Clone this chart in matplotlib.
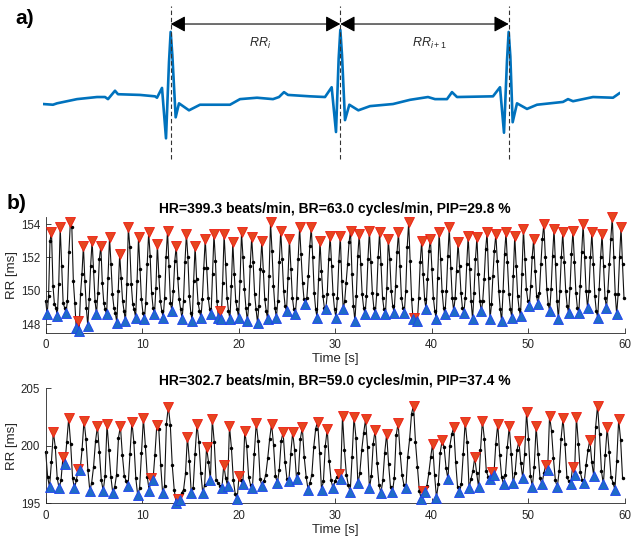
import numpy as np
import matplotlib
matplotlib.use('Agg')
import matplotlib.pyplot as plt

plt.rcParams['font.family'] = ['Liberation Sans', 'DejaVu Sans']
plt.rcParams['mathtext.fontset'] = 'custom'
plt.rcParams['mathtext.it'] = 'Liberation Sans:italic'
plt.rcParams['mathtext.rm'] = 'Liberation Sans'

# ---------------- data ----------------
# panel a: ECG trace (time in ms, amplitude in mV)
ecg_t = [0, 9, 12.6, 30.6, 48.6, 55.8, 58.5, 64.8, 67.5, 87.3, 100.8, 102.6, 107.1, 110.7,
         113.4, 114.9, 116.4, 119.4, 122.4, 131.4, 141.3, 156.6, 168.3, 177.3, 192.6, 207,
         212.4, 216.9, 220.5, 240.3, 253.8, 259.8, 263.7, 266.1, 267.6, 269.1, 271.8, 275.7,
         283.8, 294.3, 315, 330.3, 346.5, 352.8, 363.6, 368.1, 372.6, 405, 411.3, 414.9,
         417.6, 419.1, 420.6, 422.7, 426.6, 435.6, 444.6, 468, 472.5, 477, 495, 513, 519.3]
ecg_v = [0.0, -0.01, 0.01, 0.07, 0.10, 0.10, 0.07, 0.19, 0.14, 0.13, 0.11, 0.09, 0.23, -0.49,
         0.60, 1.03, 0.70, -0.19, 0.01, -0.09, -0.01, -0.01, -0.01, 0.07, 0.09, 0.07,
         0.10, 0.17, 0.13, 0.11, 0.10, 0.24, -0.40, 0.65, 1.06, 0.70, -0.23, -0.01,
         -0.09, -0.03, 0.0, 0.06, 0.10, 0.07, 0.07, 0.17, 0.10, 0.11, 0.24, -0.41,
         0.62, 1.03, 0.68, -0.26, 0.01, -0.07, -0.01, 0.03, 0.07, 0.04, 0.10, 0.09, 0.16]
r_peaks_ms = [114.9, 267.6, 419.1]
rr_labels = [r'$\mathit{RR}_{\mathit{i}}$', r'$\mathit{RR}_{\mathit{i+1}}$']

# panel b (top): RR series [ms]
rr1 = [149.4, 148.6, 149.7, 153.0, 153.5, 150.3, 149.2, 149.0, 148.5, 150.4,
       153.8, 151.5, 149.3, 149.0, 148.7, 149.4, 152.3, 154.1, 153.8, 150.6,
       149.3, 147.8, 148.2, 147.6, 149.8, 151.0, 152.7, 150.6, 149.0, 147.9,
       149.5, 151.5, 153.0, 151.2, 149.4, 148.6, 149.9, 151.9, 152.7, 150.5,
       149.3, 148.9, 148.6, 150.8, 153.2, 151.6, 149.8, 149.0, 148.7, 148.1,
       150.0, 152.2, 150.8, 149.4, 148.8, 148.2, 150.4, 153.8, 152.6, 150.4,
       149.2, 148.9, 148.4, 150.6, 153.2, 151.3, 149.5, 148.7, 148.3, 149.3,
       151.6, 153.5, 152.1, 149.9, 149.0, 148.6, 150.2, 152.8, 150.9, 149.4,
       148.8, 148.4, 149.6, 152.0, 153.6, 151.5, 149.3, 148.8, 150.0, 151.8,
       152.7, 150.8, 149.5, 148.9, 148.3, 149.4, 151.7, 153.4, 152.0, 149.7,
       148.7, 148.2, 150.6, 152.7, 150.7, 149.3, 148.8, 148.4, 149.5, 151.4,
       153.1, 151.4, 149.6, 148.9, 148.6, 151.0, 153.4, 151.8, 149.4, 148.4,
       148.8, 148.3, 150.5, 153.4, 151.6, 149.6, 148.8, 148.3, 150.3, 152.9,
       151.0, 149.4, 148.9, 148.4, 150.6, 153.5, 152.0, 150.1, 149.0, 148.2,
       149.2, 151.5, 153.2, 151.7, 149.8, 148.9, 148.1, 149.1, 151.3, 153.0,
       151.2, 149.5, 148.8, 148.3, 150.9, 154.1, 152.4, 150.3, 149.0, 148.4,
       149.4, 151.7, 153.6, 151.9, 150.0, 149.1, 148.8, 150.8, 153.1, 151.3,
       149.6, 148.9, 148.6, 149.6, 151.9, 153.8, 152.2, 150.5, 149.5, 149.2,
       149.6, 150.9, 152.7, 153.8, 152.0, 149.9, 148.9, 148.4, 150.7, 153.0,
       151.2, 149.7, 149.0, 148.9, 149.8, 151.9, 153.3, 151.5, 149.8, 148.9,
       148.4, 149.6, 151.8, 153.3, 150.6, 148.9, 149.4, 150.5, 151.6, 152.9,
       153.6, 151.0, 149.1, 148.2, 149.7, 152.1, 153.4, 151.6, 149.8, 149.0,
       148.6, 149.7, 151.9, 153.6, 151.7, 149.9, 149.0, 148.6, 149.8, 152.0,
       153.5, 151.6, 149.6, 148.9, 148.6, 150.2, 153.1, 151.9, 150.0, 149.1,
       148.7, 150.3, 152.3, 153.5, 151.5, 149.6, 149.0, 148.7, 150.0, 152.6,
       154.1, 151.8, 149.5, 148.3, 148.4, 148.3, 148.2, 149.6, 151.7, 153.0,
       151.0, 149.5, 148.9, 150.7, 152.4, 153.1, 151.3, 149.6, 148.8, 148.3,
       150.8, 153.5, 151.9, 150.0, 149.0, 148.6, 150.0, 152.1, 153.8, 151.4,
       149.6, 148.8, 149.6, 151.2, 152.9, 151.5, 149.9, 149.0, 148.7, 149.6,
       151.6, 153.3, 151.3, 149.4, 148.3, 149.9, 151.9, 153.2, 151.0, 149.4,
       148.8, 149.4, 150.7, 152.5, 153.5, 150.8, 148.3, 149.2, 150.9, 152.4,
       153.4, 151.8, 150.0, 148.9, 148.2, 150.0, 152.2, 153.5, 151.7, 149.8,
       148.9, 148.4, 150.9, 153.3, 151.5, 149.7, 148.9, 148.5, 151.0, 153.7,
       151.9, 150.1, 149.4, 149.1, 150.3, 152.0, 153.1, 151.2, 149.7, 149.2,
       149.9, 151.6, 153.1, 154.0, 152.0, 150.1, 149.2, 148.8, 150.1, 152.1,
       153.7, 151.6, 149.4, 148.3, 150.0, 152.0, 153.5, 151.7, 150.0, 149.1,
       148.7, 150.2, 152.2, 153.6, 151.7, 149.9, 149.0, 148.7, 150.3, 152.3,
       154.0, 152.0, 150.0, 149.0, 150.0, 152.0, 153.5, 151.6, 149.7, 148.8,
       148.4, 150.1, 152.0, 153.4, 151.5, 149.6, 149.0, 150.0, 151.6, 153.1,
       154.4, 152.0, 149.8, 148.6, 149.8, 152.0, 153.8, 151.6, 149.6]
peaks1 = [4, 10, 17, 22, 26, 32, 38, 44, 51, 57, 64, 71, 77, 84, 90, 97, 103, 110, 116, 120,
          123, 129, 135, 142, 149, 155, 162, 168, 175, 183, 189, 196, 203, 210, 216, 223, 230,
          236, 243, 250, 254, 259, 265, 271, 278, 284, 291, 297, 304, 310, 317, 323, 329, 336,
          343, 350, 356, 363, 370, 376, 383, 390, 396]
troughs1 = [1, 8, 14, 21, 23, 29, 35, 42, 49, 55, 62, 68, 75, 81, 87, 94, 101, 107, 114, 119,
            121, 127, 133, 139, 146, 153, 159, 166, 172, 179, 187, 193, 200, 205, 213, 220, 227,
            234, 240, 247, 253, 256, 262, 269, 275, 281, 288, 294, 300, 306, 314, 321, 327, 333,
            339, 347, 353, 360, 367, 373, 380, 386, 393]
title1 = 'HR=399.3 beats/min, BR=63.0 cycles/min, PIP=29.8 %'

# panel b (bottom): RR series [ms]
rr2 = [199.5, 197.3, 196.4, 198.6, 201.2, 199.9, 197.2, 196.3, 197.0, 199.0,
       198.4, 200.3, 202.4, 200.2, 197.2, 196.3, 197.0, 198.0, 197.9, 199.7,
       202.2, 200.6, 197.9, 196.1, 196.8, 198.2, 200.4, 201.7, 199.5, 197.0,
       196.1, 197.4, 201.9, 199.6, 197.3, 195.9, 196.4, 197.5, 200.7, 201.7,
       199.2, 197.4, 196.9, 196.5, 199.3, 202.1, 200.3, 197.2, 195.7, 196.3,
       199.4, 202.4, 200.0, 197.3, 196.1, 197.2, 197.0, 199.2, 201.8, 201.5,
       198.3, 195.9, 196.5, 201.9, 203.4, 201.8, 198.3, 196.2, 195.05, 195.35,
       195.3, 195.9, 196.2, 197.6, 200.8, 198.7, 195.9, 196.3, 199.3, 201.9,
       200.3, 197.6, 195.9, 196.6, 199.9, 198.6, 197.0, 202.3, 200.3, 197.0,
       196.8, 196.5, 196.3, 198.35, 197.2, 196.5, 201.7, 199.8, 197.0, 195.8,
       195.35, 197.4, 197.0, 196.66, 201.3, 200.0, 197.3, 196.6, 196.3, 199.3,
       202.0, 200.4, 197.1, 196.5, 196.9, 197.5, 198.9, 200.6, 201.9, 200.1,
       197.4, 196.75, 197.9, 200.4, 201.2, 198.6, 197.1, 196.95, 199.3, 201.2,
       199.6, 197.1, 197.6, 200.6, 201.6, 199.0, 197.3, 196.2, 196.8, 197.5,
       199.9, 201.5, 202.1, 199.4, 196.2, 196.9, 200.0, 201.45, 198.7, 197.0,
       196.3, 196.9, 197.3, 197.55, 197.15, 202.6, 199.6, 197.5, 196.6, 195.95,
       199.0, 202.5, 200.7, 196.75, 197.6, 199.6, 201.1, 202.3, 199.9, 196.3,
       197.4, 200.2, 201.4, 198.5, 196.6, 195.9, 197.0, 199.4, 201.05, 198.4,
       196.4, 195.95, 197.2, 200.9, 202.0, 199.4, 197.5, 196.6, 196.3, 199.0,
       200.6, 202.8, 203.5, 200.3, 198.2, 196.1, 195.4, 196.1, 195.95, 196.5,
       197.6, 199.0, 200.2, 197.5, 195.5, 196.7, 199.4, 200.5, 199.9, 198.1,
       197.1, 200.0, 201.0, 201.6, 198.6, 196.4, 195.95, 196.7, 199.3, 202.1,
       200.3, 196.3, 197.1, 197.8, 199.0, 197.6, 196.4, 199.6, 202.2, 200.6,
       197.8, 197.3, 197.1, 197.7, 197.5, 200.2, 201.9, 199.2, 197.3, 196.66,
       197.5, 199.9, 201.7, 199.3, 196.75, 197.6, 199.6, 200.4, 198.5, 197.2,
       199.3, 202.9, 200.6, 197.4, 196.45, 198.2, 201.7, 199.3, 197.2, 196.66,
       197.6, 198.3, 197.9, 202.6, 201.3, 198.9, 197.0, 196.4, 197.8, 200.6,
       202.4, 200.2, 197.3, 196.9, 196.66, 198.2, 197.5, 202.5, 200.2, 197.7,
       197.0, 196.75, 198.3, 199.6, 200.5, 198.6, 197.4, 201.6, 203.5, 201.0,
       197.8, 196.66, 199.2, 201.6, 199.5, 197.3, 196.8, 196.2, 198.7, 202.3,
       200.5, 197.2]
peaks2 = [4, 9, 12, 17, 20, 27, 32, 39, 45, 51, 55, 58, 64, 69, 74, 79, 84, 87, 93, 96,
          101, 104, 110, 118, 124, 129, 134, 142, 147, 153, 155, 161, 167, 172, 178, 184, 192,
          197, 202, 207, 213, 219, 224, 228, 233, 236, 242, 247, 251, 256, 261, 263, 270, 275,
          277, 284, 288, 293, 299]
troughs2 = [2, 7, 10, 15, 18, 23, 30, 35, 43, 48, 54, 56, 61, 68, 70, 76, 82, 86, 92, 95,
            100, 103, 108, 113, 121, 127, 131, 137, 144, 150, 154, 159, 163, 169, 175, 181, 188,
            196, 198, 204, 210, 216, 221, 226, 232, 234, 239, 244, 249, 254, 259, 262, 267, 274,
            276, 281, 286, 291, 297]
title2 = 'HR=302.7 beats/min, BR=59.0 cycles/min, PIP=37.4 %'

# ---------------- figure ----------------
W, H = 643, 539
fig = plt.figure(figsize=(W / 100, H / 100), dpi=100)


def px_rect(l, t, r, b):
    return [l / W, 1 - b / H, (r - l) / W, (b - t) / H]


AX_COLOR = '#262626'

# panel a
axa = fig.add_axes(px_rect(43, 0, 620, 165))
axa.plot(ecg_t, ecg_v, color='#0072BD', lw=1.9, solid_joinstyle='round', solid_capstyle='round')
axa.set_xlim(0, 519.3)
axa.set_ylim(-0.871, 1.486)
axa.axis('off')
for r in r_peaks_ms:
    axa.plot([r, r], [-0.786, 1.40], ls=(0, (4, 2.5)), color='#333333', lw=0.8)
arrow_y = 1.143
for a, b, lab in zip(r_peaks_ms[:-1], r_peaks_ms[1:], rr_labels):
    axa.annotate('', xy=(b, arrow_y), xytext=(a, arrow_y),
                 arrowprops=dict(arrowstyle='<|-|>,head_length=0.5,head_width=0.27',
                                 color='black', lw=0.8, shrinkA=0, shrinkB=0,
                                 mutation_scale=18))
    axa.text((a + b) / 2 + 4, 0.87, lab, ha='center', va='center', fontsize=9,
             color='#262626')

fig.text(15 / W, 1 - 18 / H, 'a)', fontsize=15, fontweight='bold', ha='left', va='center')
fig.text(7 / W, 1 - 204 / H, 'b)', fontsize=15, fontweight='bold', ha='left', va='center')


def rr_panel(rect, rr, pk, tr, ylim, yticks, title):
    ax = fig.add_axes(rect)
    rr = np.asarray(rr)
    t = np.concatenate([[0.0], np.cumsum(rr[:-1])]) / 1000.0
    ax.plot(t, rr, '-', color='#111111', lw=0.8, marker='o', ms=2.5, mec='none',
            mfc='black', clip_on=False, zorder=2)
    ax.plot(t[pk], rr[pk], 'v', ms=7.5, mfc='#E4461F', mec='#F01A10', mew=0.6,
            clip_on=False, zorder=3)
    ax.plot(t[tr], rr[tr], '^', ms=7.5, mfc='#1E6CC8', mec='#2040F0', mew=0.6,
            clip_on=False, zorder=3)
    ax.set_xlim(0, 60)
    ax.set_ylim(*ylim)
    ax.set_xticks([0, 10, 20, 30, 40, 50, 60])
    ax.set_yticks(yticks)
    for s in ['top', 'right']:
        ax.spines[s].set_visible(False)
    for s in ['left', 'bottom']:
        ax.spines[s].set_color(AX_COLOR)
        ax.spines[s].set_linewidth(0.6)
    ax.tick_params(direction='in', length=3.5, width=0.6, colors=AX_COLOR, labelsize=8.3)
    ax.tick_params(axis='x', pad=4.5)
    ax.tick_params(axis='y', pad=4)
    ax.set_xlabel('Time [s]', fontsize=9.5, color=AX_COLOR, labelpad=1.5)
    ax.set_ylabel('RR [ms]', fontsize=9.5, color=AX_COLOR, labelpad=2)
    ax.set_title(title, fontsize=10, fontweight='bold', pad=2.5)
    return ax


rr_panel(px_rect(45.7, 216.7, 624.7, 332.7), rr1, peaks1, troughs1,
         (147.5, 154.44), [148, 150, 152, 154], title1)
rr_panel(px_rect(45.7, 388.3, 624.7, 503.3), rr2, peaks2, troughs2,
         (195, 205), [195, 200, 205], title2)

fig.savefig('out.png', dpi=100)
